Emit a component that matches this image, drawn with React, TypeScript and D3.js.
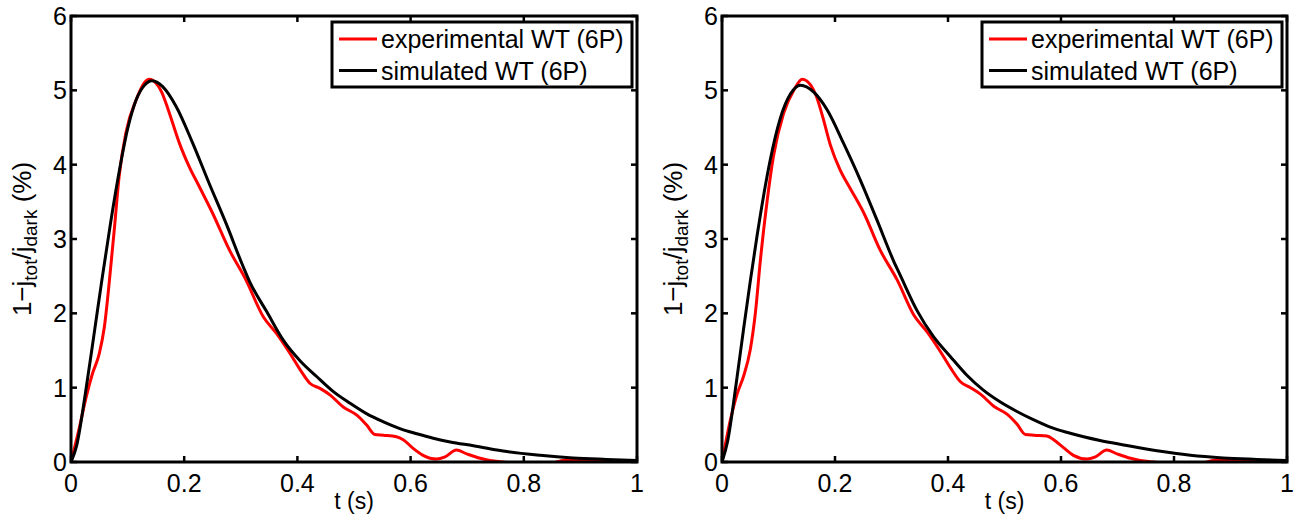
import React from "react";
import * as d3 from "d3";

// ---- data (t in s, value in %) ----
const leftExpT = [0, 0.015, 0.027, 0.038, 0.05, 0.059, 0.068, 0.077, 0.085, 0.097, 0.115, 0.138, 0.15, 0.16, 0.17, 0.18, 0.191, 0.209, 0.227, 0.25, 0.28, 0.309, 0.34, 0.363, 0.387, 0.405, 0.422, 0.44, 0.458, 0.481, 0.505, 0.522, 0.537, 0.552, 0.575, 0.587, 0.605, 0.622, 0.646, 0.661, 0.681, 0.699, 0.723, 0.74, 0.764, 0.8, 0.85, 0.87, 0.9, 0.93, 0.95, 1.0];
const leftExpV = [0, 0.47, 0.88, 1.19, 1.46, 1.82, 2.45, 3.17, 3.84, 4.43, 4.87, 5.15, 5.1, 4.98, 4.78, 4.55, 4.3, 3.97, 3.7, 3.35, 2.85, 2.45, 1.95, 1.73, 1.46, 1.24, 1.06, 0.99, 0.9, 0.74, 0.63, 0.5, 0.37, 0.36, 0.34, 0.3, 0.18, 0.09, 0.04, 0.07, 0.16, 0.11, 0.05, 0.02, 0.0, -0.02, -0.01, 0.02, 0.03, 0.02, 0.0, -0.01];

const leftSimT = [0, 0.01, 0.025, 0.04, 0.055, 0.07, 0.085, 0.1, 0.115, 0.13, 0.143, 0.162, 0.186, 0.215, 0.244, 0.274, 0.303, 0.316, 0.346, 0.375, 0.405, 0.434, 0.463, 0.493, 0.522, 0.552, 0.581, 0.611, 0.64, 0.67, 0.711, 0.77, 0.829, 0.887, 0.946, 1.0];
const leftSimV = [0, 0.22, 0.9, 1.68, 2.47, 3.22, 3.9, 4.48, 4.87, 5.07, 5.13, 5.05, 4.78, 4.29, 3.75, 3.21, 2.65, 2.42, 2.02, 1.64, 1.36, 1.15, 0.95, 0.79, 0.65, 0.54, 0.45, 0.38, 0.32, 0.27, 0.22, 0.14, 0.09, 0.055, 0.035, 0.02];

const rightExpT = [0, 0.015, 0.027, 0.038, 0.05, 0.059, 0.068, 0.08, 0.091, 0.109, 0.127, 0.142, 0.157, 0.167, 0.178, 0.192, 0.209, 0.227, 0.251, 0.28, 0.31, 0.34, 0.363, 0.387, 0.405, 0.422, 0.44, 0.458, 0.481, 0.505, 0.522, 0.537, 0.552, 0.575, 0.587, 0.605, 0.622, 0.646, 0.661, 0.681, 0.699, 0.723, 0.74, 0.764, 0.8, 0.85, 0.87, 0.9, 0.93, 0.95, 1.0];
const rightExpV = [0, 0.57, 0.92, 1.15, 1.51, 2.0, 2.72, 3.52, 4.11, 4.69, 5.0, 5.15, 5.07, 4.92, 4.65, 4.26, 3.93, 3.68, 3.35, 2.85, 2.45, 1.97, 1.75, 1.48, 1.26, 1.08, 1.0, 0.91, 0.75, 0.64, 0.51, 0.37, 0.36, 0.35, 0.3, 0.19, 0.09, 0.04, 0.07, 0.16, 0.11, 0.05, 0.02, 0.0, -0.02, -0.01, 0.02, 0.03, 0.02, 0.0, -0.01];

const rightSimT = [0, 0.01, 0.025, 0.038, 0.05, 0.062, 0.074, 0.085, 0.103, 0.121, 0.139, 0.162, 0.186, 0.215, 0.245, 0.274, 0.304, 0.315, 0.345, 0.374, 0.404, 0.433, 0.462, 0.492, 0.522, 0.551, 0.581, 0.61, 0.64, 0.669, 0.711, 0.77, 0.829, 0.887, 0.946, 1.0];
const rightSimV = [0, 0.28, 1.05, 1.78, 2.43, 3.04, 3.6, 4.05, 4.62, 4.95, 5.07, 4.98, 4.74, 4.29, 3.79, 3.26, 2.7, 2.52, 2.04, 1.69, 1.42, 1.17, 0.97, 0.81, 0.68, 0.57, 0.47, 0.4, 0.34, 0.29, 0.23, 0.15, 0.09, 0.055, 0.035, 0.02];

const xTicks = [0, 0.2, 0.4, 0.6, 0.8, 1];
const xTickLabels = ["0", "0.2", "0.4", "0.6", "0.8", "1"];
const yTicks = [0, 1, 2, 3, 4, 5, 6];
const yTickLabels = ["0", "1", "2", "3", "4", "5", "6"];
const legendLabels = ["experimental WT (6P)", "simulated WT (6P)"];
const seriesColors = ["#ff0000", "#000000"];

const FONT = "'Liberation Sans', Arial, Helvetica, sans-serif";

type PanelProps = {
  x0: number;
  x1: number;
  expT: number[];
  expV: number[];
  simT: number[];
  simV: number[];
  id: string;
};

function Panel({ x0, x1, expT, expV, simT, simV, id }: PanelProps) {
  const y0 = 16;
  const y1 = 462;
  const xs = d3.scaleLinear().domain([0, 1]).range([x0, x1]);
  const ys = d3.scaleLinear().domain([0, 6]).range([y1, y0]);
  const line = d3
    .line<[number, number]>()
    .x((d) => xs(d[0]))
    .y((d) => ys(d[1]))
    .curve(d3.curveMonotoneX);
  const expPts = expT.map((t, i) => [t, expV[i]] as [number, number]);
  const simPts = simT.map((t, i) => [t, simV[i]] as [number, number]);
  const tickLen = 6;
  const lx0 = x1 - 305;
  const ly0 = 22;
  const ly1 = 87;
  const cy = (y0 + y1) / 2;
  return (
    <g>
      <defs>
        <clipPath id={`clip-${id}`}>
          <rect x={x0} y={y0} width={x1 - x0} height={y1 - y0} />
        </clipPath>
      </defs>
      <g clipPath={`url(#clip-${id})`} fill="none" strokeWidth={3} strokeLinejoin="round" strokeLinecap="round">
        <path d={line(expPts) || ""} stroke={seriesColors[0]} />
        <path d={line(simPts) || ""} stroke={seriesColors[1]} />
      </g>
      {/* ticks */}
      <g stroke="#000" strokeWidth={2.5}>
        {xTicks.map((t, i) => (
          <g key={"xt" + i}>
            <line x1={xs(t)} x2={xs(t)} y1={y1} y2={y1 - tickLen} />
            <line x1={xs(t)} x2={xs(t)} y1={y0} y2={y0 + tickLen} />
          </g>
        ))}
        {yTicks.map((v, i) => (
          <g key={"yt" + i}>
            <line x1={x0} x2={x0 + tickLen} y1={ys(v)} y2={ys(v)} />
            <line x1={x1} x2={x1 - tickLen} y1={ys(v)} y2={ys(v)} />
          </g>
        ))}
      </g>
      <rect x={x0} y={y0} width={x1 - x0} height={y1 - y0} fill="none" stroke="#000" strokeWidth={3} />
      {/* tick labels */}
      <g fontFamily={FONT} fontSize={25} fill="#000">
        {xTicks.map((t, i) => (
          <text key={"xl" + i} x={xs(t)} y={492} textAnchor="middle">
            {xTickLabels[i]}
          </text>
        ))}
        {yTicks.map((v, i) => (
          <text key={"yl" + i} x={x0 - 4} y={ys(v)} dy="0.36em" textAnchor="end">
            {yTickLabels[i]}
          </text>
        ))}
      </g>
      {/* axis labels */}
      <text x={(x0 + x1) / 2} y={509} textAnchor="middle" fontFamily={FONT} fontSize={23}>
        t (s)
      </text>
      <text
        transform={`translate(${x0 - 40},${cy}) rotate(-90)`}
        textAnchor="middle"
        fontFamily={FONT}
        fontSize={26}
      >
        <tspan>1−j</tspan>
        <tspan dy={6} fontSize={19}>tot</tspan>
        <tspan dy={-6}>/j</tspan>
        <tspan dy={6} fontSize={19}>dark</tspan>
        <tspan dy={-6}>{" (%)"}</tspan>
      </text>
      {/* legend */}
      <rect x={lx0} y={ly0} width={x1 - 5 - lx0} height={ly1 - ly0} fill="#fff" stroke="#000" strokeWidth={3} />
      {legendLabels.map((lab, i) => {
        const yy = 39 + i * 31.5;
        return (
          <g key={"lg" + i}>
            <line x1={lx0 + 7} x2={lx0 + 45} y1={yy} y2={yy} stroke={seriesColors[i]} strokeWidth={3} />
            <text x={lx0 + 49} y={yy + 9} fontFamily={FONT} fontSize={25}>
              {lab}
            </text>
          </g>
        );
      })}
    </g>
  );
}

export default function App() {
  return (
    <svg
      width={1294}
      height={520}
      style={{ position: "absolute", left: 0, top: 0, background: "#fff" }}
    >
      <rect x={0} y={0} width={1294} height={520} fill="#fff" />
      <Panel id="L" x0={71} x1={637} expT={leftExpT} expV={leftExpV} simT={leftSimT} simV={leftSimV} />
      <Panel id="R" x0={722} x1={1287} expT={rightExpT} expV={rightExpV} simT={rightSimT} simV={rightSimV} />
    </svg>
  );
}
